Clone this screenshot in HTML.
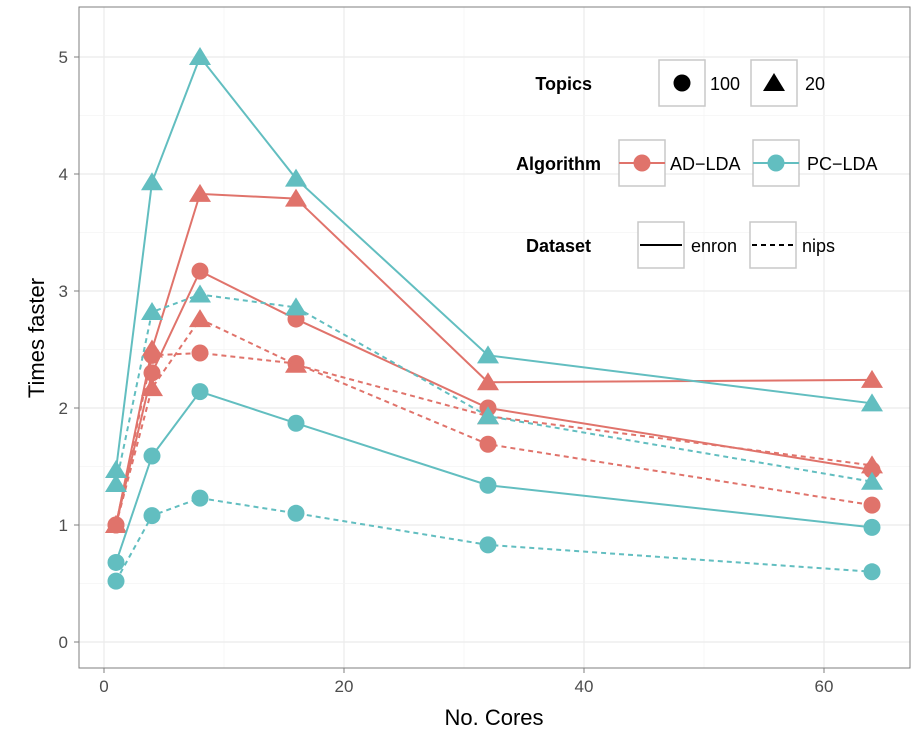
<!DOCTYPE html>
<html><head><meta charset="utf-8"><style>
body{margin:0;background:#fff;font-family:"Liberation Sans",sans-serif}
</style></head><body>
<svg id="c" width="923" height="740" xmlns="http://www.w3.org/2000/svg"></svg>
<script>
const xCats=[1,4,8,16,32,64];
const seriesNames=["ad-enron-100","ad-enron-20","ad-nips-100","ad-nips-20","pc-enron-100","pc-enron-20","pc-nips-100","pc-nips-20"];
const adEnron100=[1.0,2.30,3.17,2.76,2.00,1.47];
const adEnron20=[1.0,2.50,3.83,3.79,2.22,2.24];
const adNips100=[1.0,2.45,2.47,2.38,1.69,1.17];
const adNips20=[1.0,2.17,2.76,2.37,1.93,1.51];
const pcEnron100=[0.68,1.59,2.14,1.87,1.34,0.98];
const pcEnron20=[1.47,3.93,5.0,3.96,2.45,2.04];
const pcNips100=[0.52,1.08,1.23,1.10,0.83,0.60];
const pcNips20=[1.35,2.82,2.97,2.86,1.93,1.37];
const xTicks=[0,20,40,60];
const yTicks=[0,1,2,3,4,5];
const RED="#E0736B",TEAL="#62BEC0";
const svg=document.getElementById('c');
const NS="http://www.w3.org/2000/svg";
function X(v){return 104+v*12;}
function Y(v){return 642-v*117;}
function mk(t,a,p){const e=document.createElementNS(NS,t);for(const k in a)e.setAttribute(k,a[k]);(p||svg).appendChild(e);return e;}
mk('rect',{x:79,y:7,width:831,height:661,fill:'#fff'});
// grid
for(let v=-10;v<=70;v+=10){const px=X(v);if(px<79||px>910)continue;const g=mk('line',{x1:px,x2:px,y1:7,y2:668,stroke:v%20===0?'#ebebeb':'#f5f5f5','stroke-width':v%20===0?1.2:0.8});}
for(let v=-0.5;v<=5.5;v+=0.5){const py=Y(v);if(py<7||py>668)continue;const g=mk('line',{x1:79,x2:910,y1:py,y2:py,stroke:Number.isInteger(v)?'#ebebeb':'#f5f5f5','stroke-width':Number.isInteger(v)?1.2:0.8});}
const border=mk('rect',{x:79,y:7,width:831,height:661,fill:'none',stroke:'#7f7f7f','stroke-width':1});

xTicks.forEach(v=>{mk('line',{x1:X(v),x2:X(v),y1:668,y2:673,stroke:'#7f7f7f'});const t=mk('text',{x:X(v),y:692,'text-anchor':'middle','font-size':17,fill:'#4d4d4d'});t.textContent=v;});
yTicks.forEach(v=>{mk('line',{x1:74,x2:79,y1:Y(v),y2:Y(v),stroke:'#7f7f7f'});const t=mk('text',{x:68,y:Y(v)+6,'text-anchor':'end','font-size':17,fill:'#4d4d4d'});t.textContent=v;});
let t=mk('text',{x:494,y:725,'text-anchor':'middle','font-size':22});t.textContent='No. Cores';
t=mk('text',{x:0,y:0,'text-anchor':'middle','font-size':22,transform:'translate(44,338) rotate(-90)'});t.textContent='Times faster';
function tri(cx,cy,s,col){return mk('polygon',{points:`${cx},${cy-s} ${cx-s*1.1},${cy+s*0.8} ${cx+s*1.1},${cy+s*0.8}`,fill:col});}
const all=[[adEnron100,RED,false,'c'],[adEnron20,RED,false,'t'],[adNips100,RED,true,'c'],[adNips20,RED,true,'t'],[pcEnron100,TEAL,false,'c'],[pcEnron20,TEAL,false,'t'],[pcNips100,TEAL,true,'c'],[pcNips20,TEAL,true,'t']];
all.forEach((s,i)=>{
 const [vals,col,dash,shape]=s;
 const pl=mk('polyline',{points:vals.map((v,j)=>X(xCats[j])+','+Y(v)).join(' '),fill:'none',stroke:col,'stroke-width':2,'stroke-dasharray':dash?'5,4':'none'});
 
 vals.forEach((v,j)=>{const m=shape==='c'?mk('circle',{cx:X(xCats[j]),cy:Y(v),r:8.5,fill:col}):tri(X(xCats[j]),Y(v),10,col);
  });
});
// legend
function key(x,y){const r=mk('rect',{x:x,y:y,width:46,height:46,fill:'#fff',stroke:'#c8c8c8','stroke-width':1.5});return r;}
function lt(x,y,s,b,anchor){const e=mk('text',{x:x,y:y,'font-size':18,'font-weight':b?'bold':'normal','text-anchor':anchor||'start'});e.textContent=s;return e;}
lt(592,90,'Topics',true,'end');
key(659,60);mk('circle',{cx:682,cy:83,r:8.5,fill:'#000'});lt(710,90,'100');
key(751,60);tri(774,83,10,'#000');lt(805,90,'20');
lt(601,170,'Algorithm',true,'end');
key(619,140);mk('line',{x1:619,x2:665,y1:163,y2:163,stroke:RED,'stroke-width':2});mk('circle',{cx:642,cy:163,r:8.5,fill:RED});lt(670,170,'AD\u2212LDA');
key(753,140);mk('line',{x1:753,x2:799,y1:163,y2:163,stroke:TEAL,'stroke-width':2});mk('circle',{cx:776,cy:163,r:8.5,fill:TEAL});lt(807,170,'PC\u2212LDA');
lt(591,252,'Dataset',true,'end');
key(638,222);mk('line',{x1:640,x2:682,y1:245,y2:245,stroke:'#000','stroke-width':2});lt(691,252,'enron');
key(750,222);mk('line',{x1:752,x2:794,y1:245,y2:245,stroke:'#000','stroke-width':2,'stroke-dasharray':'5,4'});lt(802,252,'nips');
</script>
</body></html>
